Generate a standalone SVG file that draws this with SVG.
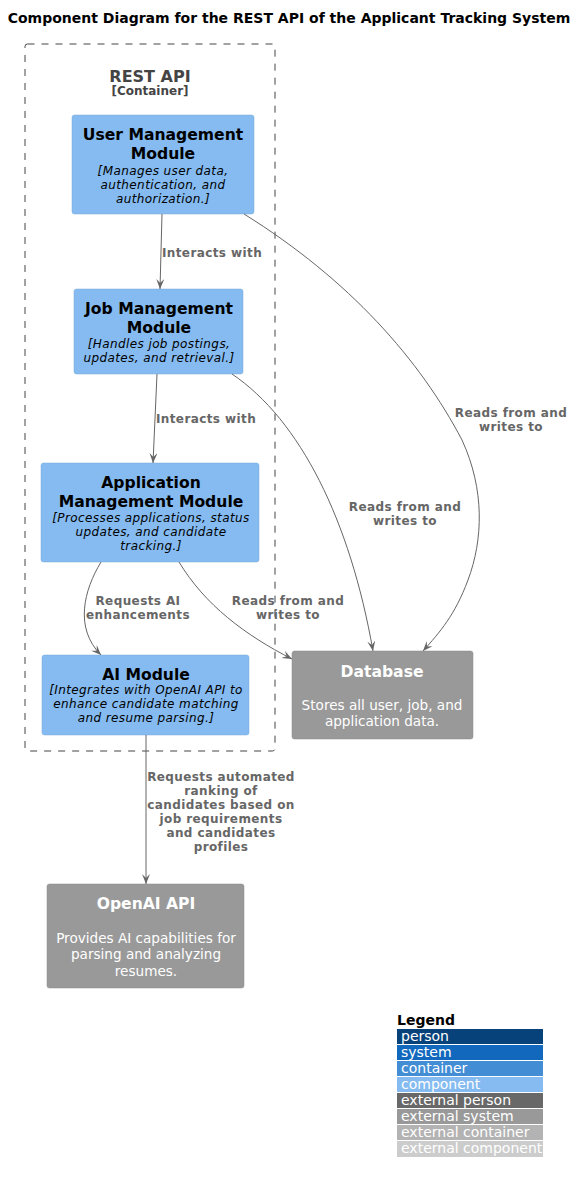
<svg xmlns="http://www.w3.org/2000/svg" width="586" height="1184" viewBox="0 0 586 1184">
<style>
text{font-family:"DejaVu Sans","Liberation Sans",sans-serif;}
.title{font-size:14px;font-weight:bold;fill:#000;}
.comp{fill:#85BBF0;stroke:#78A8D8;stroke-width:0.5;}
.ext{fill:#999999;stroke:#8A8A8A;stroke-width:0.5;}
.name{font-size:15.6px;font-weight:bold;fill:#000;text-anchor:middle;}
.desc{font-size:12px;font-style:italic;fill:#000;text-anchor:middle;letter-spacing:0.4px;}
.ename{font-size:15.6px;font-weight:bold;fill:#fff;text-anchor:middle;}
.edesc{font-size:13.6px;fill:#fff;text-anchor:middle;}
.edge{fill:none;stroke:#666;stroke-width:1;}
.lbl{font-size:12px;font-weight:bold;fill:#666;text-anchor:middle;letter-spacing:0.4px;}
.leg{font-size:14px;fill:#fff;}
</style>
<defs>
<marker id="arr" markerUnits="userSpaceOnUse" markerWidth="12" markerHeight="10" refX="10" refY="4" orient="auto">
<path d="M0,0 L10,4 L0,8 L4,4 Z" fill="#666"/>
</marker>
</defs>
<rect width="586" height="1184" fill="#fff"/>
<text class="title" x="289" y="23" text-anchor="middle">Component Diagram for the REST API of the Applicant Tracking System</text>

<g id="container-rest-api">
<rect x="25" y="44" width="250" height="707" rx="2.5" fill="none" stroke="#444" stroke-width="1" stroke-dasharray="7,7"/>
<text x="150" y="82" text-anchor="middle" font-size="16" font-weight="bold" fill="#444">REST API</text>
<text x="150" y="95" text-anchor="middle" font-size="12" font-weight="bold" fill="#444">[Container]</text>
</g>

<g id="user-management">
<rect class="comp" x="72" y="115" width="182" height="99" rx="2.5"/>
<text class="name" x="163" y="140">User Management</text>
<text class="name" x="163" y="159">Module</text>
<text class="desc" x="163" y="175">[Manages user data,</text>
<text class="desc" x="163" y="189">authentication, and</text>
<text class="desc" x="163" y="203">authorization.]</text>
</g>

<g id="job-management">
<rect class="comp" x="74" y="289" width="169" height="85" rx="2.5"/>
<text class="name" x="159" y="314">Job Management</text>
<text class="name" x="159" y="333">Module</text>
<text class="desc" x="159" y="348">[Handles job postings,</text>
<text class="desc" x="159" y="362">updates, and retrieval.]</text>
</g>

<g id="application-management">
<rect class="comp" x="41" y="463" width="218" height="99" rx="2.5"/>
<text class="name" x="151" y="488">Application</text>
<text class="name" x="151" y="507">Management Module</text>
<text class="desc" x="151" y="522">[Processes applications, status</text>
<text class="desc" x="151" y="536">updates, and candidate</text>
<text class="desc" x="151" y="550">tracking.]</text>
</g>

<g id="ai-module">
<rect class="comp" x="42" y="655" width="207" height="80" rx="2.5"/>
<text class="name" x="146" y="680">AI Module</text>
<text class="desc" x="146" y="694">[Integrates with OpenAI API to</text>
<text class="desc" x="146" y="708">enhance candidate matching</text>
<text class="desc" x="146" y="722">and resume parsing.]</text>
</g>

<g id="database">
<rect class="ext" x="292" y="651" width="181" height="88" rx="2.5"/>
<text class="ename" x="382" y="677">Database</text>
<text class="edesc" x="382" y="710">Stores all user, job, and</text>
<text class="edesc" x="382" y="726">application data.</text>
</g>

<g id="openai-api">
<rect class="ext" x="47" y="884" width="197" height="104" rx="2.5"/>
<text class="ename" x="146" y="909">OpenAI API</text>
<text class="edesc" x="146" y="943">Provides AI capabilities for</text>
<text class="edesc" x="146" y="959">parsing and analyzing</text>
<text class="edesc" x="146" y="976">resumes.</text>
</g>

<g id="connectors">
<path class="edge" d="M162,214 L160,289" marker-end="url(#arr)"/>
<text class="lbl" x="212" y="257">Interacts with</text>
<path class="edge" d="M157,374 L153,463" marker-end="url(#arr)"/>
<text class="lbl" x="206" y="423">Interacts with</text>
<path class="edge" d="M101,562 C84,590 74,628 101,655" marker-end="url(#arr)"/>
<text class="lbl" x="138" y="605">Requests AI</text>
<text class="lbl" x="138" y="619">enhancements</text>
<path class="edge" d="M179,562 C205,605 245,635 292,659" marker-end="url(#arr)"/>
<text class="lbl" x="288" y="605">Reads from and</text>
<text class="lbl" x="288" y="619">writes to</text>
<path class="edge" d="M232,374 C300,420 350,520 373,651" marker-end="url(#arr)"/>
<text class="lbl" x="405" y="511">Reads from and</text>
<text class="lbl" x="405" y="525">writes to</text>
<path class="edge" d="M244,214 C350,280 420,360 462,440 C485,490 483,540 468,580 C455,615 440,632 423,651" marker-end="url(#arr)"/>
<text class="lbl" x="511" y="417">Reads from and</text>
<text class="lbl" x="511" y="431">writes to</text>
<path class="edge" d="M146,735 L146,884" marker-end="url(#arr)"/>
<text class="lbl" x="221" y="781">Requests automated</text>
<text class="lbl" x="221" y="795">ranking of</text>
<text class="lbl" x="221" y="809">candidates based on</text>
<text class="lbl" x="221" y="823">job requirements</text>
<text class="lbl" x="221" y="837">and candidates</text>
<text class="lbl" x="221" y="851">profiles</text>
</g>

<g id="legend">
<text x="397" y="1025" font-size="14" font-weight="bold" fill="#000">Legend</text>
<rect x="397" y="1029" width="146" height="15" fill="#08427B"/>
<rect x="397" y="1045" width="146" height="15" fill="#1168BD"/>
<rect x="397" y="1061" width="146" height="15" fill="#438DD5"/>
<rect x="397" y="1077" width="146" height="15" fill="#85BBF0"/>
<rect x="397" y="1093" width="146" height="15" fill="#686868"/>
<rect x="397" y="1109" width="146" height="15" fill="#999999"/>
<rect x="397" y="1125" width="146" height="15" fill="#B3B3B3"/>
<rect x="397" y="1141" width="146" height="16" fill="#CCCCCC"/>
<text class="leg" x="401" y="1041">person</text>
<text class="leg" x="401" y="1057">system</text>
<text class="leg" x="401" y="1073">container</text>
<text class="leg" x="401" y="1089">component</text>
<text class="leg" x="401" y="1105">external person</text>
<text class="leg" x="401" y="1121">external system</text>
<text class="leg" x="401" y="1137">external container</text>
<text class="leg" x="401" y="1153">external component</text>
</g>
</svg>
